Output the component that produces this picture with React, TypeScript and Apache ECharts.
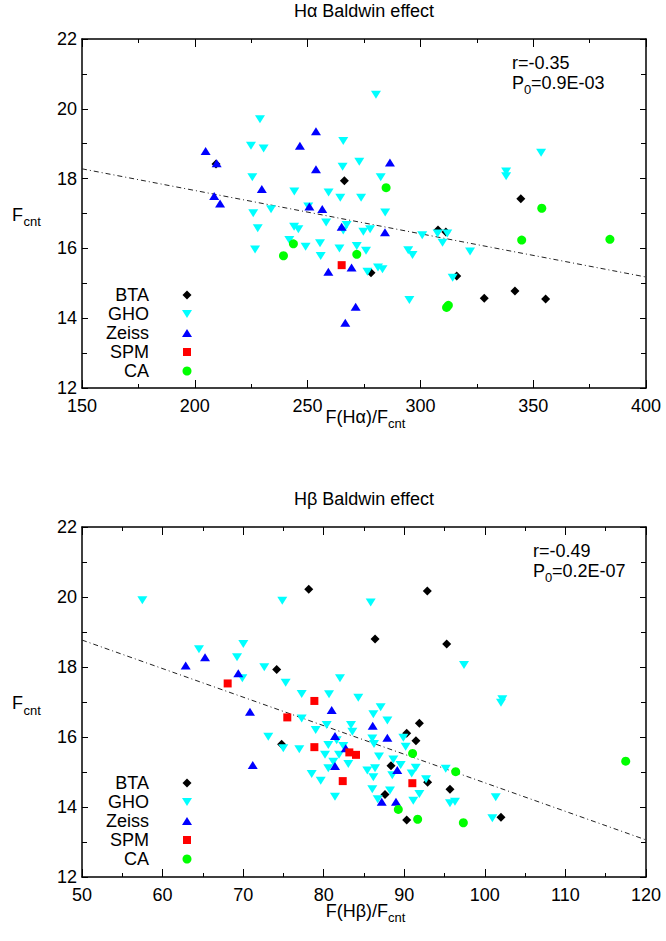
import React, { useEffect, useRef } from 'react';
import * as echarts from 'echarts';

// ---------- data: top panel (H alpha) ----------
const btaA = [[209.4,18.42],[266.3,17.94],[307.8,16.53],[311.3,16.47],[278.1,15.30],[316.1,15.21],[328.3,14.57],[341.9,14.78],[355.5,14.55],[344.5,17.42]];
const ghoA = [[280.3,20.40],[228.9,19.70],[265.8,19.08],[224.9,18.94],[230.5,18.86],[265.5,18.34],[272.9,18.48],[225.5,18.04],[244.1,17.63],[259.3,17.60],[264.5,17.45],[273.7,17.45],[282.4,18.04],[233.8,17.12],[225.9,17.01],[250.3,17.20],[258.2,16.74],[227.9,16.58],[244.0,16.62],[245.9,16.55],[265.8,16.51],[267.3,16.67],[274.7,16.48],[277.7,16.55],[226.7,15.97],[241.9,16.24],[249.1,16.05],[255.5,16.15],[255.8,15.78],[264.1,16.00],[271.8,16.07],[275.9,15.93],[276.5,15.33],[281.2,15.45],[283.2,15.40],[284.4,17.03],[300.8,16.38],[307.6,16.43],[311.9,16.43],[309.8,16.16],[322.0,15.91],[294.6,15.95],[296.5,15.81],[314.3,15.16],[295.1,14.52],[353.5,18.74],[338.0,18.20],[338.0,18.07]];
const zeissA = [[204.8,18.79],[209.7,18.44],[253.7,19.36],[246.6,18.94],[253.7,18.27],[229.7,17.70],[208.6,17.50],[211.2,17.29],[250.8,17.20],[256.5,17.13],[286.5,18.46],[265.1,16.62],[259.2,15.33],[269.5,15.45],[271.3,14.33],[266.7,13.87],[284.3,16.46]];
const spmA = [[265.1,15.52]];
const caA = [[243.7,16.13],[239.3,15.79],[271.8,15.83],[284.8,17.74],[353.8,17.15],[344.9,16.24],[384.0,16.26],[312.4,14.37],[311.6,14.31]];
const fitA = [[150,18.28],[400,15.18]];

// ---------- data: bottom panel (H beta) ----------
const btaB = [[78.14,20.22],[86.37,18.80],[92.86,20.17],[95.26,18.66],[74.16,17.93],[74.78,15.79],[91.87,16.39],[90.30,16.11],[91.45,15.89],[88.35,15.18],[92.90,14.71],[95.67,14.51],[87.61,14.36],[90.30,13.63],[102.0,13.71]];
const ghoB = [[57.49,19.91],[74.86,19.89],[85.83,19.84],[64.52,18.51],[70.02,18.66],[69.24,18.28],[72.62,17.99],[97.41,18.06],[69.90,17.68],[75.28,17.55],[82.02,17.68],[77.27,17.23],[80.66,17.22],[84.29,17.12],[86.16,16.65],[77.27,16.53],[80.37,16.34],[83.39,16.34],[79.00,16.20],[83.55,16.15],[86.03,15.96],[73.12,16.01],[81.61,15.91],[80.57,15.77],[86.24,15.80],[74.98,15.68],[76.97,15.65],[82.43,15.74],[81.90,15.49],[80.16,15.49],[83.05,15.23],[81.19,15.29],[80.57,15.11],[86.86,15.44],[85.41,15.04],[86.37,15.11],[86.16,14.85],[78.51,14.94],[79.63,14.75],[86.03,14.51],[81.40,14.29],[86.70,14.22],[102.17,17.08],[102.0,16.98],[87.07,16.85],[87.90,16.47],[89.88,15.98],[90.17,15.72],[88.64,15.36],[89.55,15.20],[91.42,15.12],[90.92,14.96],[88.51,14.91],[92.70,14.79],[95.14,15.09],[88.23,14.47],[91.87,14.37],[91.12,14.18],[101.35,14.28],[95.67,14.11],[96.29,14.15],[100.93,13.68]];
const zeissB = [[62.87,18.04],[65.27,18.28],[69.40,17.82],[70.85,16.72],[71.19,15.20],[80.99,16.77],[81.40,16.03],[82.73,15.68],[81.40,15.17],[86.08,16.32],[87.90,15.98],[89.13,15.06],[87.20,14.15],[88.97,14.15]];
const spmB = [[68.08,17.53],[78.84,17.03],[75.48,16.56],[78.84,15.71],[83.18,15.56],[84.01,15.49],[82.36,14.74],[91.0,14.68]];
const caB = [[91.03,15.53],[96.38,15.01],[117.48,15.31],[89.26,13.93],[91.66,13.65],[97.33,13.55]];
const fitB = [[50,18.77],[120,13.06]];

const legendNames = ['BTA', 'GHO', 'Zeiss', 'SPM', 'CA'];
const panelTitles = ['Hα Baldwin effect', 'Hβ Baldwin effect'];
const xNames = ['F(Hα)/F', 'F(Hβ)/F'];
const stats = [['r=-0.35', '=0.9E-03'], ['r=-0.49', '=0.2E-07']];

const FONT = '"Liberation Sans", Arial, Helvetica, sans-serif';
const COLORS = { BTA: '#000000', GHO: '#00ffff', Zeiss: '#0000ff', SPM: '#ff0000', CA: '#00ff00' };

const GRID_LEFT = 82;
const GRID_W = 564;
const GRID_TOPS = [39, 527];
const GRID_H = [349, 350];
const NAME_GAP = [29, 34];

function txt(x: number, y: number, text: string, size = 18, align = 'left', va = 'middle') {
  return {
    type: 'text', x, y, silent: true,
    style: { text, fontSize: size, fontFamily: FONT, fill: '#000', align, verticalAlign: va },
  };
}

function legendIcon(name: string, cx: number, cy: number) {
  const fill = (COLORS as any)[name];
  if (name === 'BTA') return { type: 'polygon', shape: { points: [[cx, cy - 4.5], [cx + 4.5, cy], [cx, cy + 4.5], [cx - 4.5, cy]] }, style: { fill } };
  if (name === 'GHO') return { type: 'polygon', shape: { points: [[cx - 5, cy - 4], [cx + 5, cy - 4], [cx, cy + 4]] }, style: { fill } };
  if (name === 'Zeiss') return { type: 'polygon', shape: { points: [[cx, cy - 4], [cx + 5, cy + 4], [cx - 5, cy + 4]] }, style: { fill } };
  if (name === 'SPM') return { type: 'rect', shape: { x: cx - 4, y: cy - 4, width: 8, height: 8 }, style: { fill } };
  return { type: 'circle', shape: { cx, cy, r: 4.5 }, style: { fill } };
}

function buildGraphics() {
  const g: any[] = [];
  for (let p = 0; p < 2; p++) {
    const top = GRID_TOPS[p];
    const h = GRID_H[p];
    const cx = GRID_LEFT + GRID_W / 2;
    // title
    g.push(txt(cx, top - 28, panelTitles[p], 18, 'center'));
    // x axis name with subscript
    g.push(txt(388, top + h + NAME_GAP[p], xNames[p], 18, 'right'));
    g.push(txt(388, top + h + NAME_GAP[p] + 6, 'cnt', 13, 'left'));
    // y axis name
    g.push(txt(12, top + h / 2 + 1, 'F', 18, 'left'));
    g.push(txt(23.5, top + h / 2 + 8, 'cnt', 13, 'left'));
    // statistics
    const sx = p === 0 ? 512 : 533;
    g.push(txt(sx, top + 24, stats[p][0], 18, 'left'));
    g.push(txt(sx, top + 44, 'P', 18, 'left'));
    g.push(txt(sx + 12, top + 50, '0', 13, 'left'));
    g.push(txt(sx + 19, top + 44, stats[p][1], 18, 'left'));
    // legend
    legendNames.forEach((n, i) => {
      const y = top + 256 + i * 19;
      g.push(txt(149, y, n, 18, 'right'));
      g.push(legendIcon(n, 187, y));
    });
  }
  return g;
}

function scatter(name: string, data: number[][], idx: number, symbol: string, size: any, rotate = 0) {
  return {
    type: 'scatter', name, data, xAxisIndex: idx * 2, yAxisIndex: idx * 2,
    symbol, symbolSize: size, symbolRotate: rotate,
    itemStyle: { color: (COLORS as any)[name], opacity: 1 },
    silent: true,
  };
}

function fitLine(data: number[][], idx: number) {
  return {
    type: 'line', data, xAxisIndex: idx * 2, yAxisIndex: idx * 2,
    symbol: 'none', silent: true, z: 1,
    lineStyle: { color: '#222', width: 1, type: [5, 3, 1, 3] },
  };
}

function xAx(grid: number, min: number, max: number, interval: number, position: string, labels: boolean) {
  return {
    type: 'value', gridIndex: grid, min, max, interval, position,
    axisLine: { show: true, onZero: false, lineStyle: { color: '#000', width: 1.5 } },
    axisTick: { show: true, inside: true, length: 8, lineStyle: { color: '#000', width: 1 } },
    minorTick: { show: true, splitNumber: 2, length: 4, lineStyle: { color: '#000', width: 1 } },
    splitLine: { show: false },
    axisLabel: { show: labels, fontSize: 18, color: '#000', fontFamily: FONT, margin: 9 },
  };
}

function yAx(grid: number, position: string, labels: boolean) {
  return {
    type: 'value', gridIndex: grid, min: 12, max: 22, interval: 2, position,
    axisLine: { show: true, onZero: false, lineStyle: { color: '#000', width: 1.5 } },
    axisTick: { show: true, inside: true, length: 6, lineStyle: { color: '#000', width: 1 } },
    minorTick: { show: true, splitNumber: 2, length: 5, lineStyle: { color: '#000', width: 1 } },
    splitLine: { show: false },
    axisLabel: { show: labels, fontSize: 18, color: '#000', fontFamily: FONT, margin: 5 },
  };
}

export default function App() {
  const ref = useRef<HTMLDivElement>(null);
  useEffect(() => {
    if (!ref.current) return;
    const chart = echarts.init(ref.current, null, { renderer: 'svg' });
    const datasets = [
      [btaA, ghoA, zeissA, spmA, caA, fitA],
      [btaB, ghoB, zeissB, spmB, caB, fitB],
    ];
    const series: any[] = [];
    datasets.forEach((d, i) => {
      series.push(fitLine(d[5], i));
      series.push(scatter('BTA', d[0], i, 'diamond', [9, 9]));
      series.push(scatter('GHO', d[1], i, 'triangle', [10, 8], 180));
      series.push(scatter('Zeiss', d[2], i, 'triangle', [10, 8]));
      series.push(scatter('SPM', d[3], i, 'rect', [8, 8]));
      series.push(scatter('CA', d[4], i, 'circle', 9));
    });
    chart.setOption({
      animation: false,
      backgroundColor: '#ffffff',
      textStyle: { fontFamily: FONT },
      grid: [
        { left: GRID_LEFT, top: GRID_TOPS[0], width: GRID_W, height: GRID_H[0], show: false },
        { left: GRID_LEFT, top: GRID_TOPS[1], width: GRID_W, height: GRID_H[1], show: false },
      ],
      xAxis: [
        xAx(0, 150, 400, 50, 'bottom', true),
        xAx(0, 150, 400, 50, 'top', false),
        xAx(1, 50, 120, 10, 'bottom', true),
        xAx(1, 50, 120, 10, 'top', false),
      ],
      yAxis: [
        yAx(0, 'left', true),
        yAx(0, 'right', false),
        yAx(1, 'left', true),
        yAx(1, 'right', false),
      ],
      series,
      graphic: buildGraphics(),
    });
    return () => chart.dispose();
  }, []);
  return (
    <div
      ref={ref}
      style={{ position: 'fixed', left: 0, top: 0, width: 666, height: 941, background: '#fff' }}
    />
  );
}
